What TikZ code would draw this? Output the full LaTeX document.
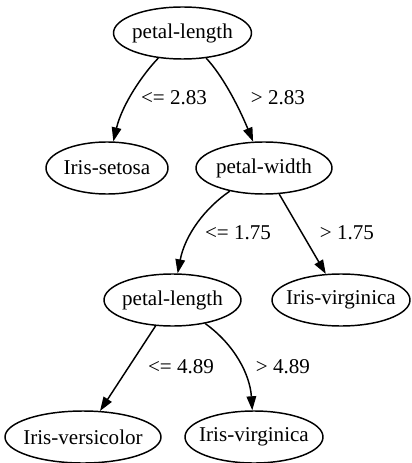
\documentclass[tikz,border=0pt]{standalone}
\usepackage{fontspec}
\setmainfont{Liberation Serif}
\usetikzlibrary{shapes.geometric,arrows.meta}

\tikzset{
  treenode/.style={draw, ellipse, line width=1.1pt, inner xsep=-10pt, inner ysep=0pt,
    minimum height=39pt, font=\fontsize{15.8}{19}\selectfont},
  cut/.style={inner sep=0pt, font=\fontsize{15.8}{19}\selectfont},
  edge/.style={draw, line width=1.1pt, -{Triangle[length=10.5pt,width=7.2pt]}},
}

\begin{document}
\begin{tikzpicture}[x=0.75pt, y=-0.75pt]
  \useasboundingbox (0,0) rectangle (411,463);

  % decision nodes and leaves
  \node[treenode, minimum width=103.5pt] (root)  at (182.5,33)  {petal-length};
  \node[treenode, minimum width=91.5pt]  (setosa) at (107,168)  {Iris-setosa};
  \node[treenode, minimum width=102pt]   (pw)     at (264,168)  {petal-width};
  \node[treenode, minimum width=102.75pt](pl)     at (172.5,300){petal-length};
  \node[treenode, minimum width=103.5pt] (virA)   at (341,300)  {Iris-virginica};
  \node[treenode, minimum width=117pt]   (versi)  at (83,437)   {Iris-versicolor};
  \node[treenode, minimum width=103.5pt] (virB)   at (254,437)  {Iris-virginica};

  % branches
  \draw[edge] (root) .. controls (142,75) and (122,105) .. (setosa);
  \draw[edge] (root) .. controls (222,75) and (238,105) .. (pw);
  \draw[edge] (pw) .. controls (205,208) and (185,235) .. (pl);
  \draw[edge] (pw) -- (virA);
  \draw[edge] (pl) -- (versi);
  \draw[edge] (pl) .. controls (235,345) and (250,375) .. (virB);

  % split thresholds
  \node[cut] (c1) at (174,98)  {<= 2.83};
  \node[cut] (c2) at (278,98)  {> 2.83};
  \node[cut] (c3) at (238,233) {<= 1.75};
  \node[cut] (c4) at (347,233) {> 1.75};
  \node[cut] (c5) at (181,367) {<= 4.89};
  \node[cut] (c6) at (283,367) {> 4.89};
\end{tikzpicture}
\end{document}
